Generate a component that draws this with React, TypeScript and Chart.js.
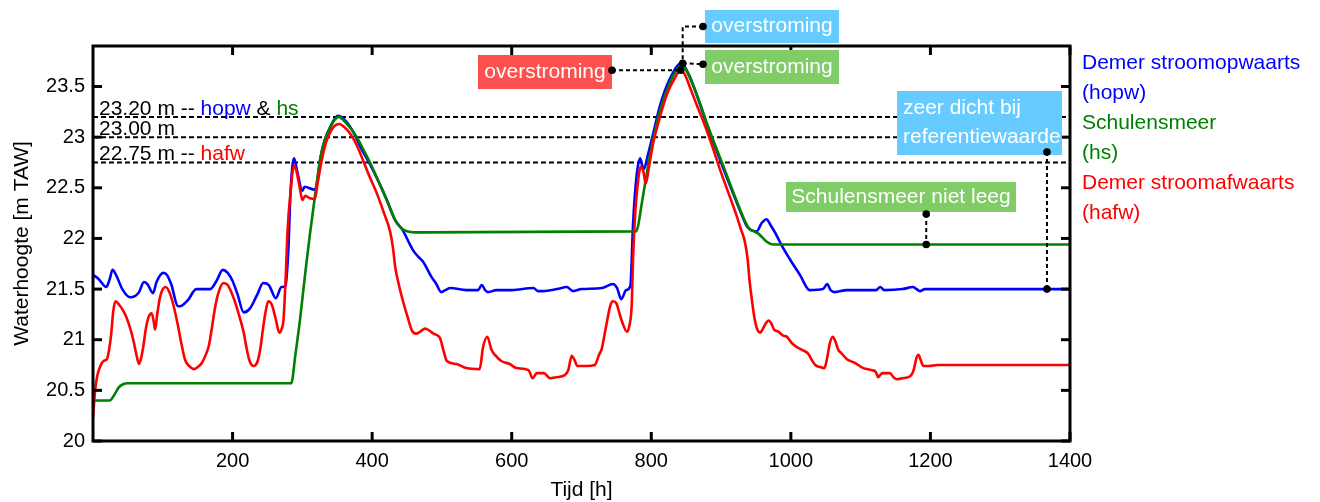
import React, { useEffect, useRef } from "react";
import { Chart, registerables } from "chart.js";

Chart.register(...registerables);

const FONT = '"Liberation Sans", Arial, Helvetica, sans-serif';
const BLUE = "#0000ff";
const GREEN = "#008000";
const RED = "#ff0000";
const BOX_RED = "#ff5050";
const BOX_BLUE = "#66ccff";
const BOX_GREEN = "#80cc66";

// Demer stroomopwaarts (hopw): [tijd h, waterhoogte m TAW]
const hopwPoints: [number, number][] = [
  [0, 21.64], [8, 21.6], [19, 21.52], [24, 21.6], [28, 21.69], [33, 21.64], [42, 21.5], [53, 21.42],
  [60, 21.43], [66, 21.47], [73, 21.57], [78, 21.55], [86, 21.46], [91, 21.57], [101, 21.66], [106, 21.64],
  [112, 21.55], [122, 21.33], [128, 21.34], [136, 21.39], [148, 21.5], [168, 21.5], [177, 21.58], [186, 21.69],
  [193, 21.66], [200, 21.58], [207, 21.45], [216, 21.27], [225, 21.31], [235, 21.44], [244, 21.56], [252, 21.54],
  [262, 21.41], [270, 21.52], [276, 21.53], [280, 21.9], [283, 22.45], [288, 22.79], [293, 22.65], [300, 22.47],
  [303, 22.51], [318, 22.48], [321, 22.55], [326, 22.8], [332, 22.97], [340, 23.1], [351, 23.21], [362, 23.16],
  [373, 23.05], [385, 22.88], [397, 22.73], [410, 22.55], [421, 22.38], [433, 22.18], [444, 22.08], [452, 21.97],
  [459, 21.88], [466, 21.82], [473, 21.77], [485, 21.62], [492, 21.55], [499, 21.47], [505, 21.49], [512, 21.51],
  [535, 21.49], [552, 21.49], [557, 21.54], [562, 21.49], [566, 21.47], [578, 21.49], [600, 21.49], [631, 21.51],
  [638, 21.48], [645, 21.48], [665, 21.5], [679, 21.52], [688, 21.48], [700, 21.5], [729, 21.51], [745, 21.55],
  [751, 21.51], [757, 21.4], [764, 21.49], [770, 21.53], [774, 22.16], [779, 22.62], [784, 22.79], [789, 22.68],
  [795, 22.82], [805, 23.1], [812, 23.3], [827, 23.58], [843, 23.73], [855, 23.6], [870, 23.32], [885, 23.02],
  [894, 22.86], [906, 22.64], [918, 22.43], [928, 22.26], [937, 22.12], [944, 22.08], [951, 22.07], [958, 22.15],
  [965, 22.19], [971, 22.13], [978, 22.05], [987, 21.93], [1000, 21.78], [1013, 21.64], [1027, 21.49], [1046, 21.5],
  [1052, 21.55], [1057, 21.49], [1063, 21.47], [1080, 21.49], [1100, 21.49], [1122, 21.49], [1128, 21.52],
  [1134, 21.49], [1160, 21.5], [1175, 21.52], [1180, 21.5], [1185, 21.48], [1192, 21.5], [1200, 21.5], [1400, 21.5],
];

// Schulensmeer (hs)
const hsPoints: [number, number][] = [
  [0, 20.4], [24, 20.4], [30, 20.45], [37, 20.53], [43, 20.56], [50, 20.57], [284, 20.57], [290, 20.85],
  [297, 21.22], [304, 21.65], [311, 22.05], [320, 22.52], [326, 22.8], [332, 22.97], [340, 23.1], [346, 23.17],
  [352, 23.2], [360, 23.16], [370, 23.08], [378, 23.0], [388, 22.87], [399, 22.72], [410, 22.55], [421, 22.38],
  [428, 22.26], [433, 22.18], [438, 22.13], [444, 22.09], [450, 22.07], [460, 22.06], [778, 22.07], [781, 22.12],
  [786, 22.33], [792, 22.58], [798, 22.82], [805, 23.05], [812, 23.25], [820, 23.42], [827, 23.54], [835, 23.65],
  [843, 23.71], [850, 23.66], [860, 23.51], [870, 23.33], [879, 23.15], [891, 22.93], [903, 22.72], [915, 22.5],
  [927, 22.29], [935, 22.16], [941, 22.09], [947, 22.07], [953, 22.05], [959, 22.01], [965, 21.97], [975, 21.94],
  [1400, 21.94],
];

// Demer stroomafwaarts (hafw)
const hafwPoints: [number, number][] = [
  [0, 20.22], [3, 20.5], [6, 20.64], [10, 20.73], [15, 20.79], [20, 20.81], [23, 20.9], [26, 21.05],
  [29, 21.28], [32, 21.38], [38, 21.34], [43, 21.29], [48, 21.22], [53, 21.12], [58, 20.99], [62, 20.86],
  [66, 20.76], [69, 20.82], [72, 20.93], [76, 21.12], [80, 21.23], [84, 21.26], [87, 21.18], [89, 21.1],
  [92, 21.25], [96, 21.42], [100, 21.5], [104, 21.52], [110, 21.46], [116, 21.32], [122, 21.13], [127, 20.95],
  [132, 20.8], [138, 20.74], [145, 20.71], [150, 20.73], [156, 20.77], [162, 20.86], [166, 20.94], [170, 21.1],
  [175, 21.32], [180, 21.47], [187, 21.56], [193, 21.54], [200, 21.44], [206, 21.32], [211, 21.2], [216, 21.07],
  [220, 20.92], [224, 20.8], [230, 20.74], [236, 20.79], [240, 20.92], [244, 21.13], [248, 21.3], [251, 21.38],
  [256, 21.35], [262, 21.2], [267, 21.07], [270, 21.1], [273, 21.2], [276, 21.6], [279, 22.1], [283, 22.45],
  [288, 22.72], [291, 22.68], [296, 22.51], [300, 22.38], [304, 22.42], [310, 22.4], [318, 22.39], [322, 22.55],
  [328, 22.78], [334, 22.95], [340, 23.05], [346, 23.11], [353, 23.13], [360, 23.1], [368, 23.04], [378, 22.92],
  [387, 22.77], [397, 22.6], [407, 22.44], [417, 22.25], [426, 22.06], [430, 21.9], [433, 21.72], [438, 21.55],
  [445, 21.36], [451, 21.22], [457, 21.09], [463, 21.06], [469, 21.08], [476, 21.11], [482, 21.09], [488, 21.06],
  [497, 21.02], [502, 20.9], [507, 20.79], [521, 20.76], [535, 20.72], [554, 20.71], [559, 20.93], [565, 21.03],
  [571, 20.9], [576, 20.85], [585, 20.79], [597, 20.76], [607, 20.72], [624, 20.7], [630, 20.62], [636, 20.67],
  [646, 20.67], [655, 20.62], [664, 20.63], [676, 20.65], [681, 20.7], [686, 20.84], [690, 20.8], [694, 20.74],
  [707, 20.74], [719, 20.75], [725, 20.85], [729, 20.91], [733, 21.05], [736, 21.16], [741, 21.33], [745, 21.38],
  [750, 21.36], [754, 21.27], [758, 21.18], [765, 21.08], [769, 21.15], [772, 21.35], [774, 21.83], [777, 22.25],
  [780, 22.5], [785, 22.71], [789, 22.65], [792, 22.54], [797, 22.72], [803, 22.95], [810, 23.14], [817, 23.31],
  [824, 23.45], [832, 23.56], [842, 23.66], [848, 23.62], [855, 23.5], [865, 23.32], [875, 23.15], [887, 22.92],
  [898, 22.69], [910, 22.46], [922, 22.23], [928, 22.1], [934, 21.97], [938, 21.8], [941, 21.57], [945, 21.35],
  [948, 21.21], [952, 21.1], [956, 21.07], [960, 21.11], [964, 21.16], [968, 21.19], [972, 21.16], [976, 21.1],
  [982, 21.08], [989, 21.04], [994, 21.03], [1001, 20.97], [1008, 20.93], [1016, 20.9], [1025, 20.86], [1030, 20.8],
  [1035, 20.75], [1042, 20.73], [1048, 20.72], [1052, 20.82], [1056, 20.97], [1060, 21.03], [1064, 20.98],
  [1068, 20.9], [1072, 20.87], [1080, 20.81], [1092, 20.77], [1104, 20.72], [1116, 20.7], [1122, 20.68],
  [1125, 20.63], [1129, 20.66], [1132, 20.67], [1142, 20.67], [1147, 20.63], [1152, 20.61], [1160, 20.62],
  [1171, 20.64], [1176, 20.7], [1180, 20.82], [1183, 20.85], [1186, 20.8], [1190, 20.74], [1198, 20.74],
  [1210, 20.75], [1400, 20.75],
];

const refLevels = [23.2, 23.0, 22.75];
const xTicks = [200, 400, 600, 800, 1000, 1200, 1400];
const yTicks = [20, 20.5, 21, 21.5, 22, 22.5, 23, 23.5];
const xRange = [0, 1400];
const yRange = [20, 23.9];

const xTitle = "Tijd [h]";
const yTitle = "Waterhoogte [m TAW]";

const refLabels: [string, string][][] = [
  [["23.20 m -- ", "#000"], ["hopw", BLUE], [" & ", "#000"], ["hs", GREEN]],
  [["23.00 m", "#000"]],
  [["22.75 m -- ", "#000"], ["hafw", RED]],
];

const legendLines: [string, string][] = [
  ["Demer stroomopwaarts", BLUE],
  ["(hopw)", BLUE],
  ["Schulensmeer", GREEN],
  ["(hs)", GREEN],
  ["Demer stroomafwaarts", RED],
  ["(hafw)", RED],
];

// annotation anchors (data coordinates)
const peakUp: [number, number] = [845, 23.73];
const peakDown: [number, number] = [842, 23.66];
const lakeAnchor: [number, number] = [1194, 21.94];
const refAnchor: [number, number] = [1367, 21.5];

const toXY = (pts: [number, number][]) => pts.map(([x, y]) => ({ x, y }));

const overlay = {
  id: "overlay",
  afterDraw(chart: any) {
    const { ctx, chartArea: a } = chart;
    const xs = chart.scales.x;
    const ys = chart.scales.y;
    const X = (v: number) => xs.getPixelForValue(v);
    const Y = (v: number) => ys.getPixelForValue(v);
    ctx.save();

    const seg = (x1: number, y1: number, x2: number, y2: number) => {
      ctx.beginPath();
      ctx.moveTo(x1, y1);
      ctx.lineTo(x2, y2);
      ctx.stroke();
    };

    // frame + inward ticks
    ctx.strokeStyle = "#000";
    ctx.lineWidth = 3;
    ctx.setLineDash([]);
    ctx.strokeRect(a.left, a.top, a.right - a.left, a.bottom - a.top);
    const TL = 9;
    for (const t of xTicks) {
      const px = X(t);
      seg(px, a.bottom, px, a.bottom - TL);
      seg(px, a.top, px, a.top + TL);
    }
    for (const t of yTicks) {
      const py = Y(t);
      seg(a.left, py, a.left + TL, py);
      seg(a.right, py, a.right - TL, py);
    }

    // tick labels
    ctx.fillStyle = "#000";
    ctx.font = `20px ${FONT}`;
    ctx.textBaseline = "middle";
    ctx.textAlign = "right";
    for (const t of yTicks) ctx.fillText(String(t), a.left - 8, Y(t));
    ctx.textAlign = "center";
    for (const t of xTicks) ctx.fillText(String(t), X(t), a.bottom + 20);

    // axis titles
    ctx.font = `21px ${FONT}`;
    ctx.textAlign = "center";
    ctx.fillText(xTitle, (a.left + a.right) / 2, a.bottom + 49);
    ctx.save();
    ctx.translate(22, (a.top + a.bottom) / 2);
    ctx.rotate(-Math.PI / 2);
    ctx.fillText(yTitle, 0, 0);
    ctx.restore();

    // reference line labels
    ctx.font = `21px ${FONT}`;
    ctx.textAlign = "left";
    ctx.textBaseline = "alphabetic";
    refLabels.forEach((parts, i) => {
      let x = a.left + 6;
      const y = Y(refLevels[i]) - 2;
      for (const [txt, col] of parts) {
        ctx.fillStyle = col;
        ctx.fillText(txt, x, y);
        x += ctx.measureText(txt).width;
      }
    });

    // legend
    ctx.textBaseline = "middle";
    legendLines.forEach(([txt, col], i) => {
      ctx.fillStyle = col;
      ctx.fillText(txt, a.right + 12, 63 + i * 30);
    });

    // boxes
    const box = (x: number, y: number, w: number, h: number, fill: string, lines: string[], align: "center" | "left") => {
      ctx.fillStyle = fill;
      ctx.fillRect(x, y, w, h);
      ctx.fillStyle = "#fff";
      ctx.font = `21px ${FONT}`;
      ctx.textBaseline = "middle";
      ctx.textAlign = align;
      const lh = 29;
      const startY = y + h / 2 - ((lines.length - 1) * lh) / 2;
      lines.forEach((l, i) => {
        ctx.fillText(l, align === "center" ? x + w / 2 : x + 6, startY + i * lh);
      });
    };
    box(478, 55, 134, 34, BOX_RED, ["overstroming"], "center");
    box(705, 10, 134, 33, BOX_BLUE, ["overstroming"], "center");
    box(705, 50, 134, 34, BOX_GREEN, ["overstroming"], "center");
    box(897, 91, 165, 64, BOX_BLUE, ["zeer dicht bij", "referentiewaarde"], "left");
    box(786, 182, 230, 30, BOX_GREEN, ["Schulensmeer niet leeg"], "center");

    // connectors
    ctx.strokeStyle = "#000";
    ctx.fillStyle = "#000";
    ctx.lineWidth = 2;
    ctx.setLineDash([4, 3]);
    const dot = (x: number, y: number) => {
      ctx.save();
      ctx.setLineDash([]);
      ctx.beginPath();
      ctx.arc(x, y, 3.8, 0, Math.PI * 2);
      ctx.fill();
      ctx.restore();
    };
    const pux = X(peakUp[0]);
    const puy = Y(peakUp[1]);
    const pdx = X(peakDown[0]);
    const pdy = Y(peakDown[1]);
    // red
    seg(612, pdy, pdx, pdy);
    dot(612, pdy);
    dot(pdx, pdy);
    // blue top
    ctx.beginPath();
    ctx.moveTo(703, 26.5);
    ctx.lineTo(pux, 26.5);
    ctx.lineTo(pux, puy);
    ctx.stroke();
    dot(703, 26.5);
    // green top
    seg(pux, puy, 703, puy + 1);
    dot(703, puy + 1);
    dot(pux, puy);
    // lake not empty
    const lx = X(lakeAnchor[0]);
    seg(lx, 214, lx, Y(lakeAnchor[1]));
    dot(lx, 214);
    dot(lx, Y(lakeAnchor[1]));
    // near reference
    const rx = X(refAnchor[0]);
    seg(rx, 152, rx, Y(refAnchor[1]));
    dot(rx, 152);
    dot(rx, Y(refAnchor[1]));

    ctx.restore();
  },
};

export default function App() {
  const ref = useRef<HTMLCanvasElement>(null);
  useEffect(() => {
    const line = (data: [number, number][], color: string) => ({
      data: toXY(data),
      borderColor: color,
      backgroundColor: color,
      borderWidth: 2.6,
      pointRadius: 0,
      fill: false,
      cubicInterpolationMode: "monotone" as const,
    });
    const refSets = refLevels.map((lvl) => ({
      data: [
        { x: xRange[0], y: lvl },
        { x: xRange[1], y: lvl },
      ],
      borderColor: "#000",
      borderWidth: 2,
      borderDash: [5, 3],
      pointRadius: 0,
      fill: false,
    }));
    const chart = new Chart(ref.current!, {
      type: "line",
      data: {
        datasets: [line(hafwPoints, RED), line(hsPoints, GREEN), line(hopwPoints, BLUE), ...refSets],
      },
      options: {
        responsive: false,
        devicePixelRatio: 1,
        animation: false,
        layout: { padding: { left: 93, right: 250, top: 46, bottom: 61 } },
        scales: {
          x: { type: "linear", min: xRange[0], max: xRange[1], display: false },
          y: { type: "linear", min: yRange[0], max: yRange[1], display: false },
        },
        plugins: { legend: { display: false }, tooltip: { enabled: false } },
      },
      plugins: [overlay],
    } as any);
    return () => chart.destroy();
  }, []);
  return (
    <div style={{ position: "absolute", left: 0, top: 0, width: 1320, height: 502, background: "#fff" }}>
      <canvas ref={ref} width={1320} height={502} style={{ width: 1320, height: 502, display: "block" }} />
    </div>
  );
}
